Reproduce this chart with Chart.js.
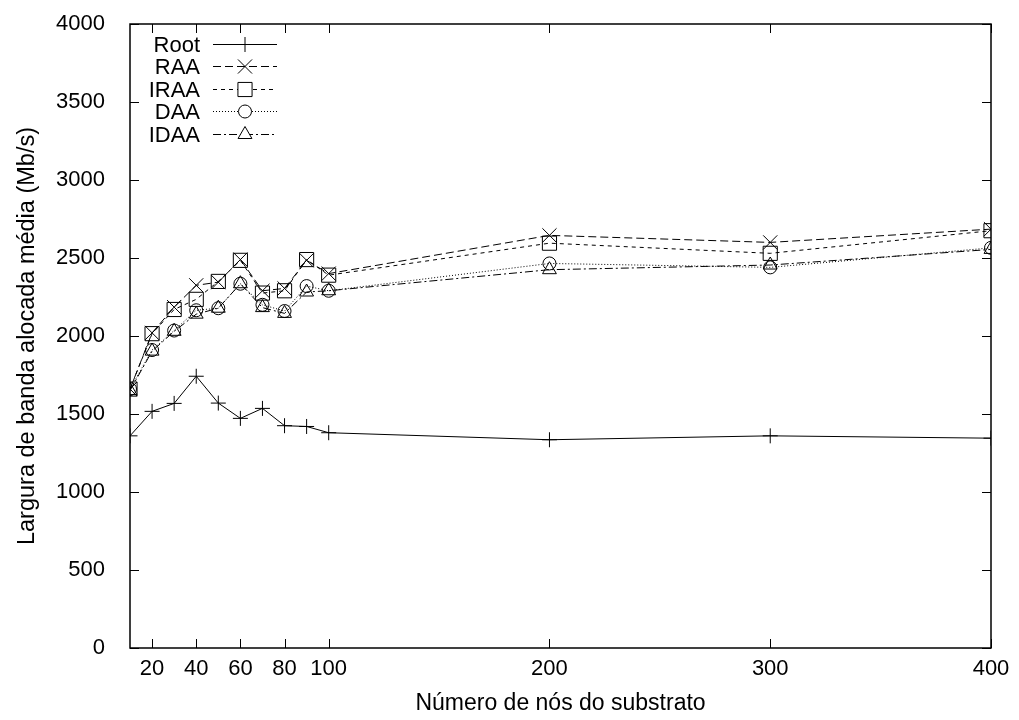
<!DOCTYPE html>
<html>
<head>
<meta charset="utf-8">
<script src="https://cdn.jsdelivr.net/npm/chart.js@4/dist/chart.umd.min.js"></script>
<style>
  html, body { margin: 0; padding: 0; background: #fff; }
  #wrap { width: 1019px; height: 720px; }
</style>
</head>
<body>
<div id="wrap"><canvas id="bandChart" width="1019" height="720"></canvas></div>
<script>
/* substrate sizes and average allocated bandwidth per algorithm */
const nodes = [10, 20, 30, 40, 50, 60, 70, 80, 90, 100, 200, 300, 400];
const root = [1360, 1517, 1568, 1742, 1570, 1472, 1536, 1425, 1420, 1380, 1335, 1360, 1345];
const raa  = [1660, 2020, 2185, 2325, 2345, 2490, 2290, 2305, 2485, 2400, 2645, 2600, 2685];
const iraa = [1660, 2015, 2170, 2235, 2350, 2485, 2275, 2290, 2490, 2390, 2595, 2530, 2675];
const daa  = [1660, 1910, 2035, 2165, 2178, 2335, 2200, 2160, 2320, 2290, 2465, 2440, 2565];
const idaa = [1650, 1903, 2030, 2140, 2178, 2335, 2182, 2145, 2282, 2290, 2425, 2455, 2555];

const xTicks = [20, 40, 60, 80, 100, 200, 300, 400];
const yTicks = [0, 500, 1000, 1500, 2000, 2500, 3000, 3500, 4000];

const FONT = "'Liberation Sans', Arial, Helvetica, sans-serif";

function toPoints(values) {
  return values.map((v, i) => ({ x: nodes[i], y: v }));
}

function series(label, values, style, radius, dash) {
  return {
    label: label,
    data: toPoints(values),
    borderColor: '#000',
    borderWidth: 1,
    borderDash: dash,
    pointStyle: style,
    pointRadius: radius,
    pointBorderColor: '#000',
    pointBorderWidth: 1,
    pointBackgroundColor: 'rgba(0,0,0,0)',
    tension: 0,
    fill: false,
  };
}

/* gnuplot-like frame: border on four sides, ticks pointing inwards */
const framePlugin = {
  id: 'frame',
  afterDatasetsDraw(chart) {
    const ctx = chart.ctx;
    const a = chart.chartArea;
    const xs = chart.scales.x, ys = chart.scales.y;
    const len = 9;
    ctx.save();
    ctx.strokeStyle = '#000';
    ctx.lineWidth = 1.5;
    ctx.strokeRect(a.left, a.top, a.right - a.left, a.bottom - a.top);
    ctx.lineWidth = 1;
    ctx.beginPath();
    xTicks.forEach(v => {
      const px = Math.round(xs.getPixelForValue(v)) + 0.5;
      ctx.moveTo(px, a.bottom); ctx.lineTo(px, a.bottom - len);
      ctx.moveTo(px, a.top); ctx.lineTo(px, a.top + len);
    });
    yTicks.forEach(v => {
      const py = Math.round(ys.getPixelForValue(v)) + 0.5;
      ctx.moveTo(a.left, py); ctx.lineTo(a.left + len, py);
      ctx.moveTo(a.right, py); ctx.lineTo(a.right - len, py);
    });
    ctx.stroke();
    ctx.restore();
  }
};

/* key in the top left corner: right-aligned names followed by line samples */
const keyPlugin = {
  id: 'key',
  afterDatasetsDraw(chart) {
    const ctx = chart.ctx;
    const a = chart.chartArea;
    const textRight = a.left + 70;
    const x0 = a.left + 83, x1 = a.left + 147;
    const rowH = 22.4;
    ctx.save();
    ctx.font = '22px ' + FONT;
    ctx.textAlign = 'right';
    ctx.textBaseline = 'middle';
    chart.data.datasets.forEach((ds, i) => {
      const y = Math.round(a.top + 20 + i * rowH) + 0.5;
      ctx.fillStyle = '#000';
      ctx.fillText(ds.label, textRight, y + 1);
      ctx.strokeStyle = '#000';
      ctx.lineWidth = 1;
      ctx.setLineDash(ds.borderDash || []);
      ctx.beginPath();
      ctx.moveTo(x0, y);
      ctx.lineTo(x1, y);
      ctx.stroke();
      ctx.setLineDash([]);
      ctx.fillStyle = '#fff';
      Chart.helpers.drawPoint(ctx, {
        pointStyle: ds.pointStyle,
        radius: ds.pointRadius,
        borderWidth: 1,
      }, (x0 + x1) / 2, y);
    });
    ctx.restore();
  }
};

const ctx = document.getElementById('bandChart');
new Chart(ctx, {
  type: 'line',
  data: {
    datasets: [
      series('Root', root, 'cross', 7.5, []),
      series('RAA', raa, 'crossRot', 10, [8, 4]),
      series('IRAA', iraa, 'rect', 10, [4, 4]),
      series('DAA', daa, 'circle', 6.5, [1, 2]),
      series('IDAA', idaa, 'triangle', 8, [8, 3, 2, 3]),
    ],
  },
  options: {
    responsive: false,
    animation: false,
    devicePixelRatio: 1,
    layout: {
      padding: { left: 0, right: 28, top: 24, bottom: 0 },
    },
    plugins: {
      legend: { display: false },
      tooltip: { enabled: false },
    },
    scales: {
      x: {
        type: 'linear',
        min: 10,
        max: 400,
        afterBuildTicks: (scale) => {
          scale.ticks = xTicks.map(v => ({ value: v }));
        },
        afterFit: (scale) => {
          scale.height = 72;
          scale.paddingLeft = 0;
          scale.paddingRight = 0;
        },
        grid: { display: false },
        border: { display: false },
        ticks: {
          color: '#000',
          font: { family: FONT, size: 22 },
          padding: 0,
          maxRotation: 0,
          autoSkip: false,
          callback: (value) => String(value),
        },
        title: {
          display: true,
          text: 'Número de nós do substrato',
          color: '#000',
          font: { family: FONT, size: 23 },
          padding: { top: 0, bottom: 3 },
        },
      },
      y: {
        type: 'linear',
        min: 0,
        max: 4000,
        afterBuildTicks: (scale) => {
          scale.ticks = yTicks.map(v => ({ value: v }));
        },
        afterFit: (scale) => {
          scale.width = 130;
          scale.paddingTop = 0;
          scale.paddingBottom = 0;
        },
        grid: { display: false },
        border: { display: false },
        ticks: {
          color: '#000',
          font: { family: FONT, size: 22 },
          padding: 17,
          callback: (value) => String(value),
        },
        title: {
          display: true,
          text: 'Largura de banda alocada média (Mb/s)',
          color: '#000',
          font: { family: FONT, size: 23.5 },
          padding: { top: 13, bottom: 0 },
        },
      },
    },
  },
  plugins: [framePlugin, keyPlugin],
});
</script>
</body>
</html>
